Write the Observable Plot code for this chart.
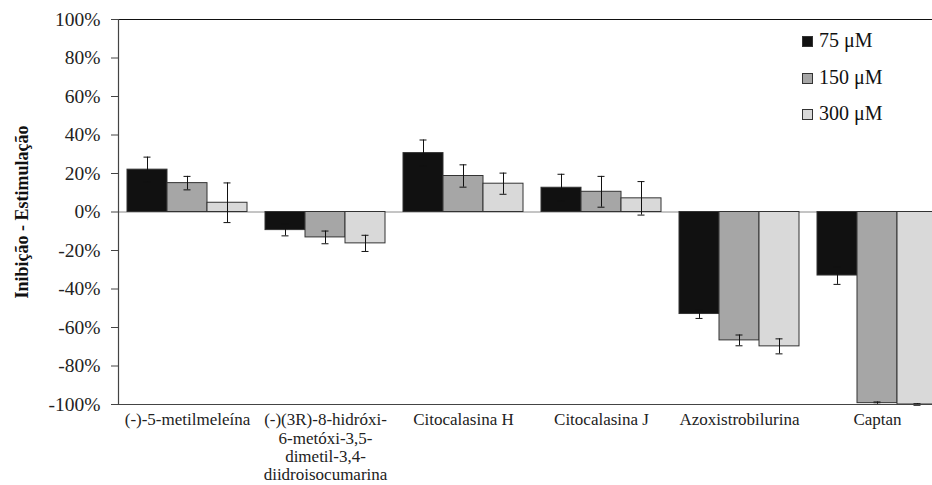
<!DOCTYPE html>
<html>
<head>
<meta charset="utf-8">
<script src="https://cdn.jsdelivr.net/npm/d3@7"></script>
<script src="https://cdn.jsdelivr.net/npm/@observablehq/plot@0.6"></script>
<style>
  html, body { margin: 0; padding: 0; background: white; }
  #wrap { position: relative; width: 932px; height: 485px; overflow: hidden; }
  #wrap svg, #wrap svg text { font-family: "Liberation Serif", "Times New Roman", Times, "DejaVu Serif", serif !important; }
  #legend { position: absolute; left: 802px; top: 22px; font-family: "Liberation Serif", "Times New Roman", Times, "DejaVu Serif", serif; font-size: 20px; color: #111; }
  #legend .row { height: 36.5px; line-height: 36.5px; white-space: nowrap; }
  #legend .sw { display: inline-block; width: 9px; height: 9px; border: 1px solid #333; margin-right: 6px; vertical-align: 0px; }
</style>
</head>
<body>
<div id="wrap"><div id="legend"></div></div>
<script>
const categories = ["(-)-5-metilmeleína", "(-)(3R)-8-hidróxi-6-metóxi-3,5-dimetil-3,4-diidroisocumarina", "Citocalasina H", "Citocalasina J", "Azoxistrobilurina", "Captan"];
const categoryLabels = ["(-)-5-metilmeleína", "(-)(3R)-8-hidróxi-\n6-metóxi-3,5-\ndimetil-3,4-\ndiidroisocumarina", "Citocalasina H", "Citocalasina J", "Azoxistrobilurina", "Captan"];
const series = ["75 μM", "150 μM", "300 μM"];
const colors = ["#111111", "#a6a6a6", "#d9d9d9"];
const v75  = [22.0, -9.4, 30.6, 12.6, -53.0, -33.0];
const v150 = [15.0, -13.2, 18.7, 10.5, -66.7, -99.3];
const v300 = [4.8, -16.3, 14.7, 7.1, -69.8, -100.0];
const e75  = [6.5, 3.0, 6.8, 7.0, 2.3, 4.6];
const e150 = [3.5, 3.3, 5.8, 8.0, 2.8, 0.6];
const e300 = [10.3, 4.2, 5.5, 8.7, 3.9, 0.4];
const yTicks = [-100, -80, -60, -40, -20, 0, 20, 40, 60, 80, 100];
const yTitle = "Inibição - Estimulação";

const font = "Liberation Serif";
const values = [v75, v150, v300];
const errors = [e75, e150, e300];
const rows = categories.flatMap((c, i) => series.map((s, j) => ({category: c, series: s, value: values[j][i], err: errors[j][i]})));
const labelOf = new Map(categories.map((c, i) => [c, categoryLabels[i]]));

const chart = Plot.plot({
  width: 932,
  height: 485,
  marginLeft: 118,
  marginRight: -14,
  marginTop: 19,
  marginBottom: 81,
  style: {fontSize: "19px", color: "#222", background: "white", overflow: "visible"},
  fx: {domain: categories, padding: 0, label: null, axis: null},
  x: {domain: series, paddingInner: 0, paddingOuter: 0.183, axis: null},
  y: {domain: [-100, 100], label: null, axis: null},
  color: {domain: series, range: colors},
  marks: [
    Plot.ruleY([0], {stroke: "#8a8a8a", strokeWidth: 1}),
    Plot.barY(rows, {fx: "category", x: "series", y: "value", fill: "series", stroke: "#333", strokeWidth: 1}),
    Plot.ruleX(rows, {fx: "category", x: "series", y1: d => d.value - d.err, y2: d => d.value + d.err, stroke: "#111", strokeWidth: 1}),
    Plot.tickY(rows, {fx: "category", x: "series", y: d => d.value + d.err, insetLeft: 16.5, insetRight: 16.5, stroke: "#111", strokeWidth: 1}),
    Plot.tickY(rows, {fx: "category", x: "series", y: d => d.value - d.err, insetLeft: 16.5, insetRight: 16.5, stroke: "#111", strokeWidth: 1}),
    Plot.ruleY([100], {stroke: "#111", strokeWidth: 1.2}),
    Plot.ruleY([-100], {stroke: "#444", strokeWidth: 1.2}),
    Plot.frame({anchor: "left", facetAnchor: "left", stroke: "#444", strokeWidth: 1.2}),
    Plot.axisY({ticks: yTicks, tickFormat: d => d + "%", tickSize: 7, tickPadding: 11, label: null, fontSize: 19.5, fontFamily: font, stroke: "#444", facetAnchor: "left"}),
    Plot.axisFx({anchor: "bottom", tickSize: 0, tickPadding: 8, tickFormat: c => labelOf.get(c), fontSize: 17, fontFamily: font, lineHeight: 1.07, lineAnchor: "top", label: null}),
    Plot.text([yTitle], {frameAnchor: "left", dx: -96, rotate: -90, textAnchor: "middle", text: d => d, fontWeight: "bold", fontSize: 18, fontFamily: font, fill: "#111", facetAnchor: "left"})
  ]
});
document.getElementById("wrap").prepend(chart);

const legend = document.getElementById("legend");
series.forEach((s, j) => {
  const row = document.createElement("div");
  row.className = "row";
  const sw = document.createElement("span");
  sw.className = "sw";
  sw.style.background = colors[j];
  row.appendChild(sw);
  row.appendChild(document.createTextNode(s));
  legend.appendChild(row);
});
</script>
</body>
</html>
